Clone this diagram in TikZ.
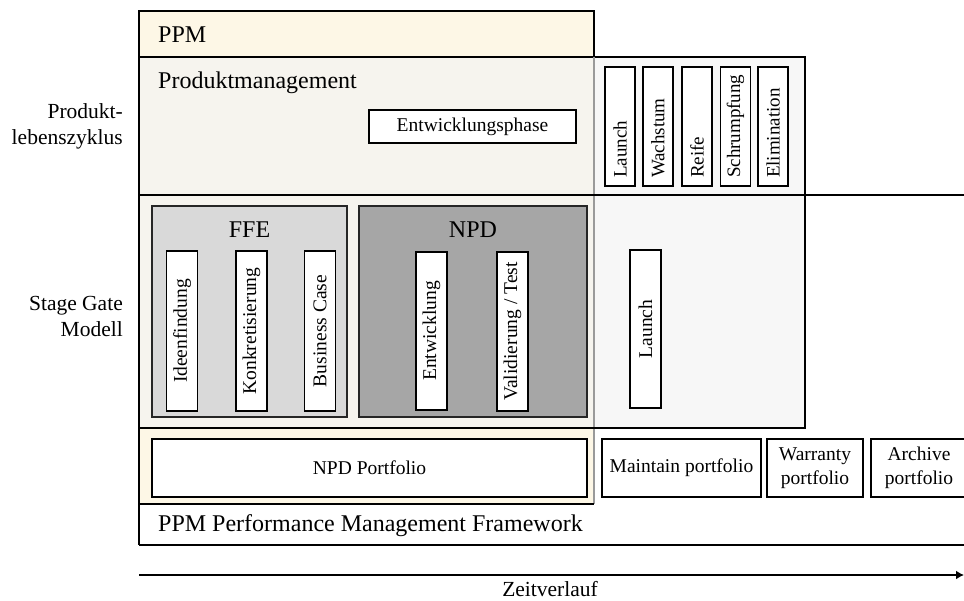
\documentclass[tikz,border=0pt]{standalone}
\usepackage{fontspec}
\setmainfont{Liberation Serif}
\usetikzlibrary{arrows.meta}
\definecolor{ppmyellow}{HTML}{FDF7E6}
\definecolor{pmbeige}{HTML}{F6F4EE}
\definecolor{rightgray}{HTML}{F7F7F7}
\definecolor{ffegray}{HTML}{D9D9D9}
\definecolor{npdgray}{HTML}{A6A6A6}
\definecolor{framegray}{HTML}{9A9A9A}
\definecolor{grpline}{HTML}{262626}
\begin{document}
\begin{tikzpicture}[x=1pt,y=-1pt,
  frame/.style={line width=1.7pt, draw=black},
  box/.style={draw=black, line width=1.8pt, fill=white, inner sep=2pt,
    font=\fontsize{19.5}{24}\selectfont, align=center},
  vbox/.style={box, rotate=90, minimum height=31pt},
  lbox/.style={box, rotate=90, minimum width=119pt, minimum height=30pt,
    text width=103pt, inner xsep=8pt, align=left, font=\fontsize{19}{23}\selectfont},
  grp/.style={draw=grpline, line width=2pt, inner sep=0pt},
  head/.style={inner sep=0pt, font=\fontsize{24}{29}\selectfont},
  side/.style={inner sep=0pt, align=right, font=\fontsize{21.5}{26}\selectfont}]
\clip (0,0) rectangle (964,601);
% background regions
\fill[pmbeige] (139,57) rectangle (594,428);
\fill[ppmyellow] (139,428) rectangle (594,504);
\draw[frame, fill=ppmyellow] (139,11) rectangle (594,57);
\draw[frame, fill=rightgray] (594,57) rectangle (805,428);
\draw[framegray, line width=1.7pt] (594,57) -- (594,504);
% structure lines
\draw[frame] (139,195) -- (964,195);
\draw[frame] (139,428) -- (805,428);
\draw[frame] (139,504) -- (594,504);
\draw[frame] (139,545) -- (964,545);
\draw[frame] (139,11) -- (139,545);
% headers
\node[head, anchor=base west] (ppm) at (158,43) {PPM};
\node[head, anchor=base west] (pm) at (158,89) {Produktmanagement};
\node[head, anchor=base west] (pmf) at (158,531) {PPM Performance Management Framework};
% side labels
\node[side, anchor=east] (plz) at (123,126) {Produkt-\\lebenszyklus};
\node[side, anchor=east] (sgm) at (123,316) {Stage Gate\\Modell};
% Entwicklungsphase
\node[box, minimum width=207pt, minimum height=33pt] (ephase) at (472.5,126.5) {Entwicklungsphase};
% lifecycle boxes
\node[lbox] (lc1) at (620,126.5) {Launch};
\node[lbox] (lc2) at (658,126.5) {Wachstum};
\node[lbox] (lc3) at (697,126.5) {Reife};
\node[lbox] (lc4) at (735.5,126.5) {Schrumpfung};
\node[lbox] (lc5) at (773,126.5) {Elimination};
% FFE and NPD groups
\node[grp, fill=ffegray, minimum width=195pt, minimum height=211pt] (ffe) at (249.5,311.5) {};
\node[grp, fill=npdgray, minimum width=228pt, minimum height=211pt] (npd) at (473,311.5) {};
\node[head, anchor=base] (ffel) at (249.5,238) {FFE};
\node[head, anchor=base] (npdl) at (473,238) {NPD};
\node[vbox, minimum width=160pt] (idee) at (182,331) {Ideenfindung};
\node[vbox, minimum width=160pt] (konk) at (251.5,331) {Konkretisierung};
\node[vbox, minimum width=160pt] (bc) at (320,331) {Business Case};
\node[vbox, minimum width=158pt] (entw) at (431.5,331) {Entwicklung};
\node[vbox, minimum width=159pt] (vali) at (512.5,331.5) {Validierung / Test};
\node[vbox, minimum width=158pt] (sgl) at (645.5,329) {Launch};
% portfolio boxes
\node[box, minimum width=435pt, minimum height=58pt] (npdp) at (369.5,468) {NPD Portfolio};
\node[box, minimum width=159pt, minimum height=58pt] (maint) at (681.5,468) {Maintain portfolio};
\node[box, minimum width=96pt, minimum height=58pt] (warr) at (815,468) {Warranty\\portfolio};
\node[box, minimum width=96pt, minimum height=58pt] (arch) at (919,468) {Archive\\portfolio};
% time axis
\coordinate (t0) at (139,575);
\coordinate (t1) at (964,575);
\draw[line width=1.7pt, -{Latex[length=8pt,width=9pt]}] (t0) -- (t1);
\node[side, anchor=base] (zeit) at (550,596) {Zeitverlauf};
\end{tikzpicture}
\end{document}
